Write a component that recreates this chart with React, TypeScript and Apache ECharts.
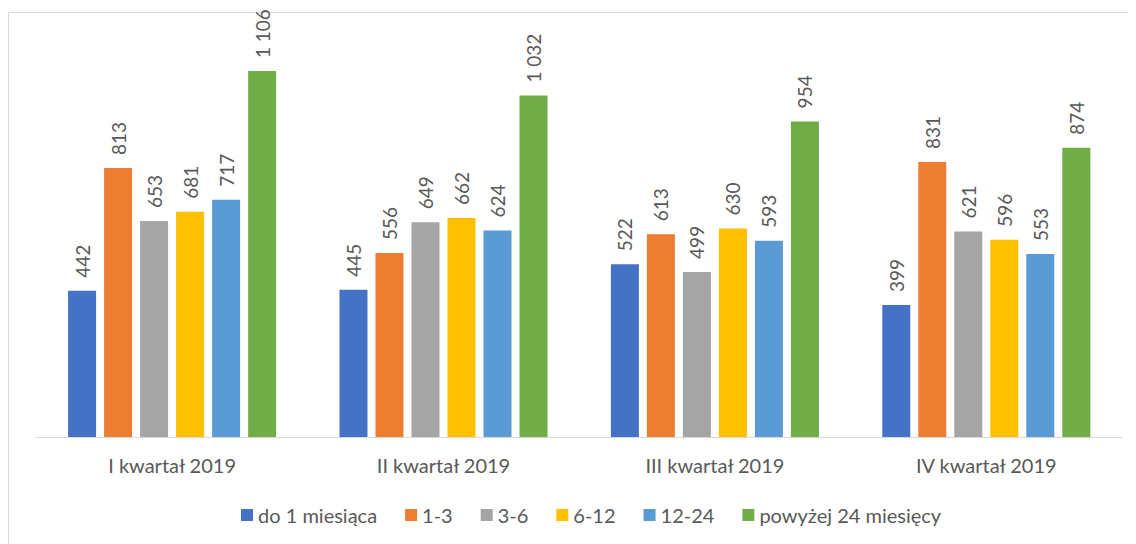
import React, { useEffect, useRef } from "react";
import * as echarts from "echarts";

const categories = ["I kwartał 2019", "II kwartał 2019", "III kwartał 2019", "IV kwartał 2019"];
const seriesNames = ["do 1 miesiąca", "1-3", "3-6", "6-12", "12-24", "powyżej 24 miesięcy"];
const colors = ["#4472C4", "#ED7D31", "#A5A5A5", "#FFC000", "#5B9BD5", "#70AD47"];
const do1 = [442, 445, 522, 399];
const m1_3 = [813, 556, 613, 831];
const m3_6 = [653, 649, 499, 621];
const m6_12 = [681, 662, 630, 596];
const m12_24 = [717, 624, 593, 553];
const pow24 = [1106, 1032, 954, 874];
const values = [do1, m1_3, m3_6, m6_12, m12_24, pow24];

const FONT = "Lato, 'Open Sans', sans-serif";

function fmt(v: number): string {
  return String(v).replace(/\B(?=(\d{3})+(?!\d))/g, " ");
}

export default function App() {
  const ref = useRef<HTMLDivElement>(null);
  useEffect(() => {
    if (!ref.current) return;
    const chart = echarts.init(ref.current, undefined, { renderer: "svg" });
    chart.setOption({
      animation: false,
      graphic: [
        {
          type: "rect",
          shape: { x: 0.5, y: 4.5, width: 1200, height: 600 },
          style: { fill: "none", stroke: "#D9D9D9", lineWidth: 1 },
          silent: true,
        },
      ],
      grid: { left: 28.4, right: 14, top: 32, bottom: 107 },
      xAxis: {
        type: "category",
        data: categories,
        axisLine: { lineStyle: { color: "#D9D9D9", width: 1 } },
        axisTick: { show: false },
        axisLabel: { color: "#595959", fontSize: 20, fontFamily: FONT, margin: 18 },
      },
      yAxis: {
        type: "value",
        min: 0,
        max: 1200,
        show: false,
        splitLine: { show: false },
      },
      legend: {
        bottom: 14,
        left: 228,
        itemWidth: 12,
        itemHeight: 12,
        itemGap: 28,
        icon: "rect",
        textStyle: { color: "#595959", fontSize: 20, fontFamily: FONT },
        data: seriesNames,
      },
      series: seriesNames.map((name, i) => ({
        name,
        type: "bar",
        data: values[i],
        barWidth: 28,
        barGap: "28.6%",
        itemStyle: { color: colors[i] },
        label: {
          show: true,
          position: "top",
          rotate: 90,
          align: "left",
          verticalAlign: "middle",
          distance: 13,
          color: "#595959",
          fontSize: 19,
          fontFamily: FONT,
          formatter: (p: any) => fmt(p.value),
        },
      })),
    });
    return () => chart.dispose();
  }, []);
  return <div ref={ref} style={{ width: 1128, height: 536 }} />;
}
